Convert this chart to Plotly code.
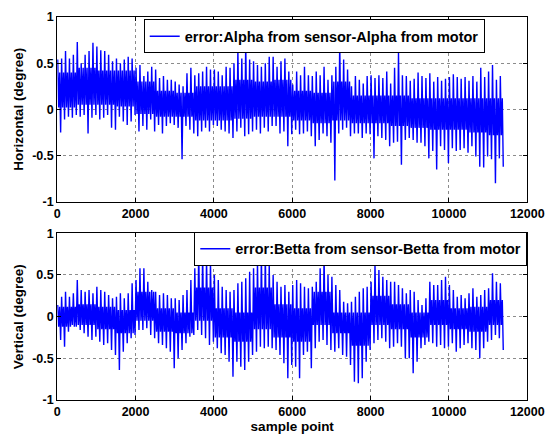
import plotly.graph_objects as go

# ---- data: per-100-sample envelope (max / min) ----
bin_size = 100
alpha_hi = [0.54, 0.55, 0.63, 0.55, 0.59, 0.73, 0.50, 0.59, 0.63, 0.72,
            0.68, 0.64, 0.63, 0.59, 0.52, 0.55, 0.50, 0.54, 0.57, 0.55,
            0.45, 0.48, 0.36, 0.41, 0.46, 0.43, 0.34, 0.36, 0.32, 0.32,
            0.30, 0.27, 0.25, 0.39, 0.45, 0.37, 0.39, 0.41, 0.46, 0.43,
            0.43, 0.41, 0.37, 0.46, 0.45, 0.50, 0.64, 0.55, 0.72, 0.54,
            0.52, 0.48, 0.46, 0.50, 0.57, 0.57, 0.46, 0.52, 0.55, 0.41,
            0.27, 0.41, 0.37, 0.46, 0.37, 0.36, 0.41, 0.37, 0.46, 0.32,
            0.37, 0.46, 0.72, 0.54, 0.43, 0.25, 0.36, 0.32, 0.28, 0.36,
            0.37, 0.34, 0.37, 0.34, 0.41, 0.28, 0.45, 0.61, 0.37, 0.36,
            0.31, 0.33, 0.40, 0.36, 0.34, 0.39, 0.30, 0.35, 0.31, 0.33,
            0.35, 0.38, 0.35, 0.33, 0.35, 0.31, 0.36, 0.30, 0.45, 0.35,
            0.41, 0.48, 0.32, 0.36]
alpha_lo = [-0.25, -0.11, -0.08, -0.09, -0.06, -0.08, -0.06, -0.26, -0.09, -0.06,
            -0.11, -0.09, -0.06, -0.20, -0.22, -0.08, -0.13, -0.17, -0.13, -0.06,
            -0.24, -0.18, -0.22, -0.11, -0.24, -0.17, -0.26, -0.18, -0.15, -0.17,
            -0.20, -0.54, -0.18, -0.22, -0.26, -0.29, -0.24, -0.20, -0.24, -0.17,
            -0.18, -0.22, -0.24, -0.26, -0.31, -0.24, -0.20, -0.29, -0.27, -0.24,
            -0.22, -0.26, -0.20, -0.24, -0.18, -0.18, -0.26, -0.24, -0.40, -0.27,
            -0.22, -0.27, -0.26, -0.24, -0.29, -0.40, -0.33, -0.26, -0.29, -0.36,
            -0.77, -0.26, -0.22, -0.20, -0.29, -0.26, -0.26, -0.31, -0.26, -0.27,
            -0.53, -0.29, -0.31, -0.33, -0.40, -0.36, -0.35, -0.60, -0.33, -0.31,
            -0.33, -0.36, -0.36, -0.40, -0.53, -0.45, -0.65, -0.40, -0.44, -0.58,
            -0.42, -0.45, -0.44, -0.42, -0.47, -0.40, -0.51, -0.62, -0.63, -0.51,
            -0.54, -0.80, -0.53, -0.62]
betta_hi = [0.14, 0.24, 0.30, 0.24, 0.28, 0.44, 0.32, 0.30, 0.32, 0.28,
            0.36, 0.32, 0.30, 0.26, 0.22, 0.24, 0.28, 0.22, 0.28, 0.40,
            0.44, 0.58, 0.58, 0.42, 0.32, 0.30, 0.26, 0.28, 0.26, 0.22,
            0.22, 0.20, 0.26, 0.32, 0.44, 0.58, 0.80, 0.76, 0.70, 0.66,
            0.50, 0.44, 0.36, 0.32, 0.30, 0.32, 0.40, 0.42, 0.46, 0.54,
            0.58, 0.66, 0.74, 0.78, 0.62, 0.50, 0.42, 0.36, 0.38, 0.30,
            0.38, 0.44, 0.40, 0.36, 0.34, 0.36, 0.42, 0.58, 0.73, 0.50,
            0.48, 0.38, 0.32, 0.18, 0.16, 0.18, 0.24, 0.30, 0.34, 0.36,
            0.42, 0.64, 0.56, 0.48, 0.44, 0.42, 0.42, 0.38, 0.34, 0.28,
            0.32, 0.30, 0.20, 0.14, 0.22, 0.42, 0.38, 0.38, 0.44, 0.48,
            0.38, 0.32, 0.24, 0.26, 0.22, 0.28, 0.34, 0.24, 0.26, 0.32,
            0.34, 0.52, 0.42, 0.40]
betta_lo = [-0.28, -0.36, -0.18, -0.10, -0.12, -0.16, -0.20, -0.24, -0.28, -0.24,
            -0.30, -0.34, -0.32, -0.40, -0.46, -0.64, -0.42, -0.32, -0.26, -0.22,
            -0.16, -0.16, -0.14, -0.22, -0.26, -0.32, -0.34, -0.38, -0.42, -0.62,
            -0.50, -0.40, -0.32, -0.24, -0.22, -0.16, -0.22, -0.26, -0.34, -0.30,
            -0.38, -0.44, -0.46, -0.54, -0.72, -0.54, -0.60, -0.64, -0.54, -0.46,
            -0.42, -0.36, -0.38, -0.36, -0.38, -0.40, -0.46, -0.56, -0.74, -0.58,
            -0.60, -0.74, -0.46, -0.42, -0.62, -0.38, -0.30, -0.28, -0.34, -0.40,
            -0.42, -0.38, -0.46, -0.48, -0.58, -0.78, -0.80, -0.74, -0.54, -0.40,
            -0.32, -0.28, -0.26, -0.30, -0.38, -0.36, -0.32, -0.36, -0.50, -0.50,
            -0.68, -0.54, -0.38, -0.34, -0.30, -0.32, -0.36, -0.34, -0.38, -0.36,
            -0.32, -0.42, -0.38, -0.34, -0.32, -0.38, -0.40, -0.50, -0.38, -0.30,
            -0.28, -0.22, -0.26, -0.40]

# ---- dense "core" band per 500 samples ----
core_bin = 500
alpha_core_hi = [0.40, 0.45, 0.42, 0.42, 0.30, 0.20, 0.18, 0.25, 0.25, 0.32,
                 0.30, 0.32, 0.20, 0.18, 0.30, 0.15, 0.15, 0.15, 0.12, 0.12,
                 0.12, 0.12, 0.12]
alpha_core_lo = [0.02, 0.05, 0.05, 0.03, -0.05, -0.08, -0.08, -0.12, -0.12, -0.10,
                 -0.08, -0.08, -0.12, -0.15, -0.12, -0.15, -0.15, -0.18, -0.20, -0.22,
                 -0.22, -0.25, -0.28]
betta_core_hi = [0.12, 0.15, 0.12, 0.08, 0.30, 0.10, 0.05, 0.35, 0.10, 0.05,
                 0.35, 0.15, 0.10, 0.30, 0.05, 0.05, 0.25, 0.15, 0.05, 0.20,
                 0.10, 0.12, 0.20]
betta_core_lo = [-0.12, -0.10, -0.15, -0.20, -0.05, -0.18, -0.20, -0.05, -0.25, -0.30,
                 -0.15, -0.25, -0.30, -0.10, -0.20, -0.35, -0.10, -0.15, -0.25, -0.10,
                 -0.15, -0.18, -0.10]

x_tickvals = [0, 2000, 4000, 6000, 8000, 10000, 12000]
x_ticktext = ["0", "2000", "4000", "6000", "8000", "10000", "12000"]
y_tickvals = [-1, -0.5, 0, 0.5, 1]
y_ticktext = ["-1", "-0.5", "0", "0.5", "1"]
name_alpha = "error:Alpha from sensor-Alpha from motor"
name_betta = "error:Betta from sensor-Betta from motor"


def trace_points(hi, lo, chi, clo):
    xs, ys = [], []
    per = core_bin // bin_size
    for i, (h, l) in enumerate(zip(hi, lo)):
        k = min(i // per, len(chi) - 1)
        base = i * bin_size
        xs += [base + 12, base + 37, base + 62, base + 87]
        ys += [h, clo[k], chi[k], l]
    return xs, ys


B = lambda s: "<b>" + s + "</b>"

fig = go.Figure()
for (hi, lo, chi, clo, name, ax, ay, leg) in [
        (alpha_hi, alpha_lo, alpha_core_hi, alpha_core_lo, name_alpha, "x", "y", "legend"),
        (betta_hi, betta_lo, betta_core_hi, betta_core_lo, name_betta, "x2", "y2", "legend2")]:
    px, py = trace_points(hi, lo, chi, clo)
    fig.add_trace(go.Scatter(x=px, y=py, mode="lines", name=B(name),
                             line=dict(color="#0000ff", width=1.4),
                             xaxis=ax, yaxis=ay, legend=leg))

font = dict(family="Liberation Sans, Arial, sans-serif", size=12.5, color="black")
axis_common = dict(showline=True, mirror="ticks", linecolor="black", linewidth=1,
                   ticks="inside", ticklen=4, tickcolor="black", automargin=False,
                   ticklabeloverflow="allow",
                   showgrid=True, gridcolor="#8c8c8c", griddash="dot", gridwidth=1,
                   zeroline=False, tickfont=font)
title_font = dict(font, size=13.5)

xt = [B(t) for t in x_ticktext]
yt = [B(t) for t in y_ticktext]
x_dom = [0.105, 0.9675]
fig.update_layout(
    width=545, height=434,
    margin=dict(l=0, r=0, t=0, b=0, autoexpand=False),
    paper_bgcolor="white", plot_bgcolor="white",
    font=font,
    xaxis=dict(domain=x_dom, range=[0, 12000], tickvals=x_tickvals, ticktext=xt, anchor="y", **axis_common),
    yaxis=dict(domain=[0.535, 0.961], range=[-1, 1], tickvals=y_tickvals, ticktext=yt,
               anchor="x", title=dict(text=B("Horizontal (degree)"), font=title_font, standoff=5),
               **axis_common),
    xaxis2=dict(domain=x_dom, range=[0, 12000], tickvals=x_tickvals, ticktext=xt, anchor="y2",
                title=dict(text=B("sample point"), font=title_font, standoff=1), **axis_common),
    yaxis2=dict(domain=[0.0783, 0.4624], range=[-1, 1], tickvals=y_tickvals, ticktext=yt,
                anchor="x2", title=dict(text=B("Vertical (degree)"), font=title_font, standoff=5),
                **axis_common),
    legend=dict(x=0.2637, y=0.9555, xanchor="left", yanchor="top", bgcolor="white",
                bordercolor="black", borderwidth=1, font=dict(font, size=14.5), itemwidth=30,
                tracegroupgap=0),
    legend2=dict(x=0.9675, y=0.466, xanchor="right", yanchor="top", bgcolor="white",
                 bordercolor="black", borderwidth=1, font=dict(font, size=14.5), itemwidth=30,
                 tracegroupgap=0),
    showlegend=True,
)

fig.write_html("out.html", config={"displayModeBar": False},
               post_script="document.body.style.margin='0';"
               "document.body.style.overflow='hidden';")
